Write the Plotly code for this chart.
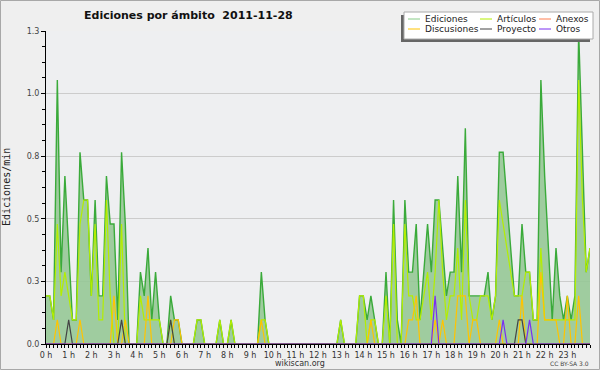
import plotly.graph_objects as go

# 10-minute samples from 0 h to 24 h (145 samples), edits per minute
ediciones = [
    0.192, 0.192, 0.096, 1.054, 0.287, 0.671, 0.383, 0.096, 0.096, 0.766,
    0.575, 0.575, 0.192, 0.575, 0.192, 0.192, 0.671, 0.479, 0.479, 0.096,
    0.766, 0.479, 0, 0, 0, 0.287, 0.192, 0.383, 0.096, 0.287,
    0.096, 0, 0, 0.192, 0.096, 0.096, 0, 0, 0, 0,
    0.096, 0.096, 0, 0, 0, 0, 0.096, 0, 0, 0.096,
    0, 0, 0, 0, 0, 0, 0, 0.287, 0.096, 0,
    0, 0, 0, 0, 0, 0, 0, 0, 0, 0,
    0, 0, 0, 0, 0, 0, 0, 0, 0.096, 0,
    0, 0, 0, 0.192, 0.192, 0.096, 0.192, 0.096, 0, 0,
    0.287, 0, 0.575, 0.096, 0, 0.575, 0.287, 0.287, 0.479, 0.096,
    0.287, 0.479, 0.287, 0.575, 0.575, 0.383, 0.192, 0.287, 0.287, 0.671,
    0.287, 0.862, 0.192, 0.192, 0.192, 0.192, 0.192, 0.287, 0.096, 0.192,
    0.766, 0.766, 0.575, 0.383, 0.192, 0.192, 0.479, 0.287, 0.287, 0.096,
    0.096, 1.054, 0.671, 0.383, 0.096, 0.383, 0.192, 0.096, 0.192, 0.096,
    0.192, 1.245, 0.766, 0.287, 0.383,
]
articulos = [
    0.192, 0.192, 0.096, 0.479, 0.192, 0.287, 0.192, 0.096, 0.096, 0.479,
    0.575, 0.575, 0.192, 0.479, 0.096, 0.096, 0.575, 0.192, 0, 0,
    0.479, 0, 0, 0, 0, 0.192, 0.096, 0.096, 0.096, 0.096,
    0.096, 0, 0, 0.096, 0, 0, 0, 0, 0, 0,
    0.096, 0.096, 0, 0, 0, 0, 0.096, 0, 0, 0.096,
    0, 0, 0, 0, 0, 0, 0, 0.096, 0.096, 0,
    0, 0, 0, 0, 0, 0, 0, 0, 0, 0,
    0, 0, 0, 0, 0, 0, 0, 0, 0.096, 0,
    0, 0, 0, 0.192, 0.192, 0, 0.096, 0.096, 0, 0,
    0.192, 0, 0.479, 0, 0, 0.479, 0.192, 0.192, 0.096, 0.096,
    0.192, 0.287, 0.096, 0.287, 0.575, 0.287, 0.096, 0.192, 0.192, 0.383,
    0.096, 0.575, 0.192, 0.096, 0.096, 0.192, 0.192, 0.192, 0.096, 0.192,
    0.575, 0.479, 0.383, 0.287, 0.192, 0.192, 0.192, 0.287, 0.287, 0.096,
    0.096, 0.383, 0.096, 0.096, 0.096, 0.096, 0.096, 0.096, 0.096, 0.096,
    0.096, 1.054, 0.575, 0.287, 0.383,
]
anexos = [0] * 145
discusiones = [
    0, 0, 0, 0.096, 0, 0, 0, 0, 0, 0.096,
    0, 0, 0, 0, 0, 0, 0, 0, 0.192, 0,
    0, 0.096, 0, 0, 0, 0, 0, 0.192, 0, 0,
    0, 0, 0, 0, 0.096, 0.096, 0, 0, 0, 0,
    0, 0, 0, 0, 0, 0, 0, 0, 0, 0,
    0, 0, 0, 0, 0, 0, 0, 0.096, 0, 0,
    0, 0, 0, 0, 0, 0, 0, 0, 0, 0,
    0, 0, 0, 0, 0, 0, 0, 0, 0, 0,
    0, 0, 0, 0, 0, 0, 0.096, 0, 0, 0,
    0, 0, 0, 0, 0, 0, 0.096, 0.096, 0.192, 0,
    0, 0, 0, 0.096, 0, 0.096, 0, 0, 0, 0.192,
    0.192, 0.192, 0, 0.096, 0.096, 0, 0, 0, 0, 0,
    0.096, 0, 0, 0, 0, 0, 0.192, 0, 0, 0,
    0, 0.287, 0.096, 0.096, 0.096, 0.096, 0, 0, 0.192, 0,
    0, 0.192, 0, 0, 0,
]
proyecto = [
    0, 0, 0, 0, 0, 0, 0.096, 0, 0, 0,
    0, 0, 0, 0, 0, 0, 0, 0, 0, 0,
    0.096, 0, 0, 0, 0, 0, 0, 0, 0, 0,
    0, 0, 0, 0.096, 0, 0, 0, 0, 0, 0,
    0, 0, 0, 0, 0, 0, 0, 0, 0, 0,
    0, 0, 0, 0, 0, 0, 0, 0, 0, 0,
    0, 0, 0, 0, 0, 0, 0, 0, 0, 0,
    0, 0, 0, 0, 0, 0, 0, 0, 0, 0,
    0, 0, 0, 0, 0, 0, 0, 0, 0, 0,
    0, 0, 0, 0, 0, 0, 0, 0, 0, 0,
    0, 0, 0, 0, 0, 0, 0, 0, 0, 0,
    0, 0, 0, 0, 0, 0, 0, 0, 0, 0,
    0, 0, 0, 0, 0, 0.096, 0.096, 0, 0, 0,
    0, 0, 0, 0, 0, 0, 0, 0, 0, 0,
    0, 0, 0, 0, 0,
]
otros = [
    0, 0, 0, 0, 0, 0, 0, 0, 0, 0,
    0, 0, 0, 0, 0, 0, 0, 0, 0, 0,
    0, 0, 0, 0, 0, 0, 0, 0, 0, 0,
    0, 0, 0, 0, 0, 0, 0, 0, 0, 0,
    0, 0, 0, 0, 0, 0, 0, 0, 0, 0,
    0, 0, 0, 0, 0, 0, 0, 0, 0, 0,
    0, 0, 0, 0, 0, 0, 0, 0, 0, 0,
    0, 0, 0, 0, 0, 0, 0, 0, 0, 0,
    0, 0, 0, 0, 0, 0, 0, 0, 0, 0,
    0, 0, 0, 0, 0, 0, 0, 0, 0, 0,
    0, 0, 0, 0.192, 0, 0, 0, 0, 0, 0,
    0, 0, 0, 0, 0, 0, 0, 0, 0, 0,
    0, 0.096, 0, 0, 0, 0, 0, 0, 0.096, 0,
    0, 0, 0, 0, 0, 0, 0, 0, 0, 0,
    0, 0, 0, 0, 0,
]

hour_ticks = list(range(24))
hour_labels = [f"{h} h" for h in hour_ticks]
y_ticks = [0, 0.25, 0.5, 0.75, 1.0, 1.25]
y_labels = ["0.0", "0.3", "0.5", "0.8", "1.0", "1.3"]

series_names = ["Ediciones", "Artículos", "Anexos", "Discusiones", "Proyecto", "Otros"]
series_colors = ["#3aaa3a", "#b4ee00", "#ff7f50", "#ffc400", "#444444", "#7a2ff0"]

times = [i / 6 for i in range(len(ediciones))]

W, H = 600, 370
L, R, T, B = 46, 10, 31, 26
PW, PH = W - L - R, H - T - B


def px(x):
    return (x - L) / PW


def py(y):
    return (H - B - y) / PH


FONT = "DejaVu Sans"

fig = go.Figure()
fig.add_trace(go.Scatter(
    x=times, y=ediciones, mode="lines", fill="tozeroy",
    fillcolor="rgba(150,200,150,0.9)",
    line=dict(color=series_colors[0], width=1.4), showlegend=False,
    name=series_names[0]))
for name, col, vals in [
    (series_names[2], series_colors[2], anexos),
    (series_names[1], series_colors[1], articulos),
    (series_names[3], series_colors[3], discusiones),
    (series_names[4], series_colors[4], proyecto),
    (series_names[5], series_colors[5], otros),
]:
    fig.add_trace(go.Scatter(x=times, y=vals, mode="lines", name=name,
                             line=dict(color=col, width=1.2), showlegend=False))

shapes = []
annotations = []
# outer frame
shapes.append(dict(type="rect", xref="paper", yref="paper",
                   x0=px(0.5), x1=px(W - 0.5), y0=py(H - 0.5), y1=py(0.5),
                   line=dict(color="#a8a8a8", width=1), layer="below"))
# legend box with shadow
lx0, lx1, ly0, ly1 = 404, 593, 12, 39
shapes.append(dict(type="rect", xref="paper", yref="paper",
                   x0=px(lx0 - 3), x1=px(lx1 - 3), y0=py(ly1 + 3), y1=py(ly0 + 3),
                   fillcolor="#666666", line=dict(width=0)))
shapes.append(dict(type="rect", xref="paper", yref="paper",
                   x0=px(lx0), x1=px(lx1), y0=py(ly1), y1=py(ly0),
                   fillcolor="#ffffff", line=dict(color="#aaaaaa", width=1)))
legend_pos = [(408, 19), (480, 19), (539, 19), (408, 29), (480, 29), (539, 29)]
for (x, y), name, col in zip(legend_pos, series_names, series_colors):
    lc = "#88cc88" if name == "Ediciones" else col
    shapes.append(dict(type="line", xref="paper", yref="paper",
                       x0=px(x), x1=px(x + 12), y0=py(y), y1=py(y),
                       line=dict(color=lc, width=1)))
    annotations.append(dict(xref="paper", yref="paper", x=px(x + 15), y=py(y),
                            text=name, showarrow=False, xanchor="left",
                            yanchor="middle",
                            font=dict(family=FONT, size=9, color="#222222")))

annotations.append(dict(xref="paper", yref="paper", x=px(188), y=py(15),
                        text="<b>Ediciones por ámbito  2011-11-28</b>",
                        showarrow=False, xanchor="center", yanchor="middle",
                        font=dict(family=FONT, size=11, color="#111111")))
annotations.append(dict(xref="paper", yref="paper", x=px(300), y=py(363),
                        text="wikiscan.org", showarrow=False,
                        xanchor="center", yanchor="middle",
                        font=dict(family=FONT, size=8, color="#333333")))
annotations.append(dict(xref="paper", yref="paper", x=px(591), y=py(363),
                        text="CC BY-SA 3.0", showarrow=False,
                        xanchor="right", yanchor="middle",
                        font=dict(family=FONT, size=6, color="#444444")))
annotations.append(dict(xref="paper", yref="paper", x=px(6), y=py(187),
                        text="Ediciones/min", showarrow=False, textangle=-90,
                        xanchor="center", yanchor="middle",
                        font=dict(family="DejaVu Sans Mono", size=10,
                                  color="#222222")))

fig.update_layout(
    width=W, height=H,
    margin=dict(l=L, r=R, t=T, b=B, pad=0),
    paper_bgcolor="#efefef", plot_bgcolor="#eeeff1",
    shapes=shapes, annotations=annotations,
    showlegend=False,
    font=dict(family=FONT),
)
fig.update_xaxes(
    range=[0, 24], tickvals=hour_ticks, ticktext=hour_labels,
    showgrid=False, zeroline=False, showline=True, linecolor="#000000",
    linewidth=1, ticks="outside", ticklen=3, tickcolor="#000000",
    tickfont=dict(family=FONT, size=8, color="#333333"),
    minor=dict(dtick=1 / 6, ticks="outside", ticklen=3, tickcolor="#000000",
               showgrid=False),
)
fig.update_yaxes(
    range=[0, 1.25], tickvals=y_ticks, ticktext=y_labels,
    showgrid=True, gridcolor="#cccccc", gridwidth=1, zeroline=False,
    showline=True, linecolor="#000000", linewidth=1,
    ticks="outside", ticklen=4, tickcolor="#000000",
    tickfont=dict(family=FONT, size=8, color="#444444"),
    minor=dict(dtick=0.0625, ticks="outside", ticklen=3, tickcolor="#000000",
               showgrid=False),
)

fig.write_html(
    "out.html",
    config={"displayModeBar": False},
    post_script="document.body.style.margin='0';document.body.style.padding='0';",
)
